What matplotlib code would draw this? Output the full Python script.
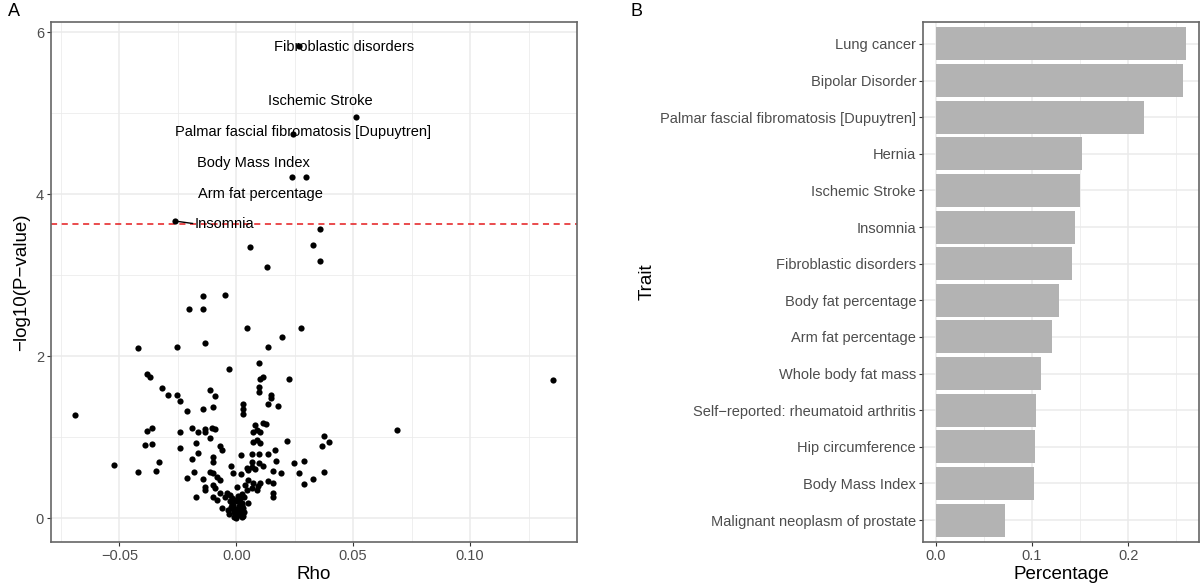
import matplotlib
matplotlib.use("Agg")
import matplotlib.pyplot as plt
from matplotlib.ticker import MultipleLocator

plt.rcParams['font.family'] = ['Liberation Sans', 'DejaVu Sans']

# ---- Panel A data: rho vs -log10(P) ----
rho = [
    0.0267, 0.0510, 0.0243, 0.0240, 0.0300, -0.0262,
    0.0359, 0.0330, 0.0359, 0.0059, 0.0130, -0.0141, -0.0049,
    -0.0202, -0.0142, 0.0047, 0.0276, 0.0196, -0.0421, -0.0252, -0.0132, 0.0137,
    0.0096, -0.0033, -0.0383, -0.0371, 0.0103, 0.0114, 0.0227, 0.1355,
    -0.0690, 0.0686, -0.0521, -0.0420, -0.0342, -0.0330, -0.0380, -0.0360,
    -0.0392, -0.0361, 0.0376, 0.0397, 0.0366, 0.0376, 0.0327,
    -0.0319, -0.0290, -0.0254, -0.0240, -0.0112, -0.0091, -0.0212, -0.0141, -0.0100,
    0.0097, 0.0097, 0.0149, 0.0149, 0.0137, 0.0180, 0.0028, 0.0028, 0.0028,
    -0.0240, -0.0190, -0.0162, -0.0133, -0.0133, -0.0105, -0.0090, -0.0112,
    -0.0240, -0.0172, -0.0162, -0.0190, -0.0100, -0.0100, -0.0069, -0.0062,
    -0.0212, -0.0179, -0.0141, -0.0112, -0.0172, -0.0133, -0.0133,
    -0.0098, -0.0083, -0.0069, -0.0098, -0.0091, -0.0098, -0.0083, -0.0062,
    -0.0069, -0.0048, -0.0040, -0.0026, -0.0022, -0.0012, 0.0019, 0.0019, 0.0005,
    0.0023, 0.0031, 0.0023,
    0.0071, 0.0088, 0.0102, 0.0073, 0.0088, 0.0102, 0.0080, 0.0116, 0.0127,
    0.0166, 0.0218, 0.0066, 0.0099, 0.0137, 0.0066, 0.0047, 0.0099, 0.0116, 0.0171,
    0.0051, 0.0066, 0.0080, 0.0159, 0.0190, 0.0248, 0.0290, 0.0269, 0.0290,
    0.0137, 0.0159, 0.0159, 0.0159,
    0.0051, 0.0073, 0.0094, 0.0102, 0.0037, 0.0045, 0.0066, 0.0088,
    0.0023, 0.0051, 0.0030,
    -0.0026, -0.0020, -0.0015, -0.0010, -0.0005, 0.0000, 0.0005, 0.0010, 0.0015,
    0.0000, -0.0008, 0.0012, 0.0020, -0.0018, 0.0008, -0.0022, 0.0018, -0.0012,
    0.0003, 0.0025, -0.0030, 0.0030, 0.0000, -0.0035, 0.0035, -0.0006, 0.0014,
]
neglog10p = [
    5.835, 4.960, 4.750, 4.210, 4.210, 3.670,
    3.575, 3.380, 3.180, 3.350, 3.100, 2.740, 2.760,
    2.580, 2.590, 2.350, 2.350, 2.240, 2.106, 2.115, 2.160, 2.120,
    1.920, 1.840, 1.780, 1.740, 1.720, 1.740, 1.720, 1.710,
    1.280, 1.090, 0.660, 0.570, 0.590, 0.690, 1.080, 1.110,
    0.910, 0.920, 1.020, 0.940, 0.890, 0.570, 0.490,
    1.605, 1.520, 1.520, 1.450, 1.580, 1.510, 1.325, 1.345, 1.378,
    1.617, 1.555, 1.520, 1.490, 1.407, 1.390, 1.407, 1.345, 1.283,
    1.070, 1.110, 1.070, 1.100, 1.060, 1.110, 1.100, 0.987,
    0.872, 0.925, 0.810, 0.728, 0.760, 0.700, 0.889, 0.840,
    0.500, 0.567, 0.480, 0.576, 0.267, 0.390, 0.350,
    0.555, 0.515, 0.473, 0.410, 0.370, 0.267, 0.226, 0.123,
    0.308, 0.267, 0.308, 0.288, 0.646, 0.555, 0.781, 0.550, 0.390,
    0.300, 0.267, 0.012,
    0.946, 0.967, 0.925, 1.070, 1.090, 1.060, 1.150, 1.180, 1.160,
    0.840, 0.954, 0.800, 0.800, 0.795, 0.700, 0.617, 0.686, 0.646, 0.712,
    0.600, 0.630, 0.607, 0.588, 0.563, 0.686, 0.712, 0.555, 0.420,
    0.464, 0.431, 0.308, 0.259,
    0.473, 0.440, 0.400, 0.431, 0.410, 0.350, 0.370, 0.350,
    0.190, 0.190, 0.123,
    0.220, 0.180, 0.120, 0.080, 0.050, 0.030, 0.100, 0.150, 0.200,
    0.000, 0.020, 0.060, 0.090, 0.250, 0.270, 0.140, 0.040, 0.160,
    0.210, 0.170, 0.060, 0.030, 0.120, 0.100, 0.080, 0.230, 0.250,
]
threshold = 3.63

# labelled points (index into rho/neglog10p) and where ggrepel put the text
label_idx = [0, 1, 2, 3, 4, 5]
label_text = ["Fibroblastic disorders", "Ischemic Stroke",
              "Palmar fascial fibromatosis [Dupuytren]", "Body Mass Index",
              "Arm fat percentage", "Insomnia"]
label_pos = [(0.0462, 5.82), (0.0359, 5.146), (0.0285, 4.763),
             (0.0072, 4.388), (0.0103, 4.004), (-0.0052, 3.63)]

# ---- Panel B data ----
traits = ["Lung cancer", "Bipolar Disorder", "Palmar fascial fibromatosis [Dupuytren]",
          "Hernia", "Ischemic Stroke", "Insomnia", "Fibroblastic disorders",
          "Body fat percentage", "Arm fat percentage", "Whole body fat mass",
          "Self\u2212reported: rheumatoid arthritis", "Hip circumference",
          "Body Mass Index", "Malignant neoplasm of prostate"]
percentage = [0.2604, 0.2569, 0.2159, 0.1515, 0.1503, 0.1443, 0.1412,
              0.1284, 0.1213, 0.1097, 0.1046, 0.1030, 0.1018, 0.0716]

GRID = "#EBEBEB"
BORDER = "#666666"
TICKTXT = "#4D4D4D"


def bw_style(ax):
    for s in ax.spines.values():
        s.set_color(BORDER)
        s.set_linewidth(1.2)
    ax.grid(True, which="major", color=GRID, linewidth=1.1)
    ax.grid(True, which="minor", color=GRID, linewidth=0.55)
    ax.set_axisbelow(True)
    ax.tick_params(which="major", length=3, width=0.8, color="#333333",
                   labelsize=10.5, labelcolor=TICKTXT, pad=2)
    ax.tick_params(which="minor", length=0)


fig = plt.figure(figsize=(12, 5.84), dpi=100)

# Panel A
axA = fig.add_axes([51 / 1200, 42 / 584, 526 / 1200, 520 / 584])
axA.scatter(rho, neglog10p, s=20, color="black", linewidths=0, zorder=3)
axA.axhline(threshold, color="#E41A1C", linestyle=(0, (4, 3)), linewidth=1.1, zorder=2)
for i, txt, (tx, ty) in zip(label_idx, label_text, label_pos):
    axA.text(tx, ty, txt, ha="center", va="center", fontsize=10.5, color="black", zorder=4)
# ggrepel segment for Insomnia
i = label_idx[5]
axA.plot([rho[i], label_pos[5][0] - 0.0135], [neglog10p[i], label_pos[5][1] + 0.01],
         color="black", linewidth=1, zorder=3)
xr = max(rho) - min(rho)
yr = max(neglog10p) - min(neglog10p)
axA.set_xlim(min(rho) - 0.05 * xr, max(rho) + 0.05 * xr)
axA.set_ylim(min(neglog10p) - 0.05 * yr, max(neglog10p) + 0.05 * yr)
axA.set_xticks([-0.05, 0.00, 0.05, 0.10])
axA.set_xticklabels(["\u22120.05", "0.00", "0.05", "0.10"])
axA.xaxis.set_minor_locator(MultipleLocator(0.025))
axA.set_yticks([0, 2, 4, 6])
axA.yaxis.set_minor_locator(MultipleLocator(1))
bw_style(axA)
axA.set_xlabel("Rho", fontsize=13.5, labelpad=2)
axA.set_ylabel("\u2212log10(P\u2212value)", fontsize=13.5, labelpad=4)

# Panel B
axB = fig.add_axes([923 / 1200, 42 / 584, 276 / 1200, 520 / 584])
ypos = list(range(len(traits)))[::-1]
axB.barh(ypos, percentage, height=0.9, color="#B3B3B3", zorder=3)
axB.set_yticks(ypos)
axB.set_yticklabels(traits)
axB.set_ylim(-0.6, len(traits) - 0.4)
pmax = max(percentage)
axB.set_xlim(-0.05 * pmax, 1.05 * pmax)
axB.set_xticks([0.0, 0.1, 0.2])
axB.set_xticklabels(["0.0", "0.1", "0.2"])
axB.xaxis.set_minor_locator(MultipleLocator(0.05))
bw_style(axB)
axB.set_xlabel("Percentage", fontsize=13.5, labelpad=2)
axB.set_ylabel("Trait", fontsize=13.5, labelpad=3)

fig.text(8 / 1200, 1 - 12 / 584, "A", fontsize=13, va="center", ha="left")
fig.text(630 / 1200, 1 - 12 / 584, "B", fontsize=13, va="center", ha="left")

fig.savefig("out.png", dpi=100)
